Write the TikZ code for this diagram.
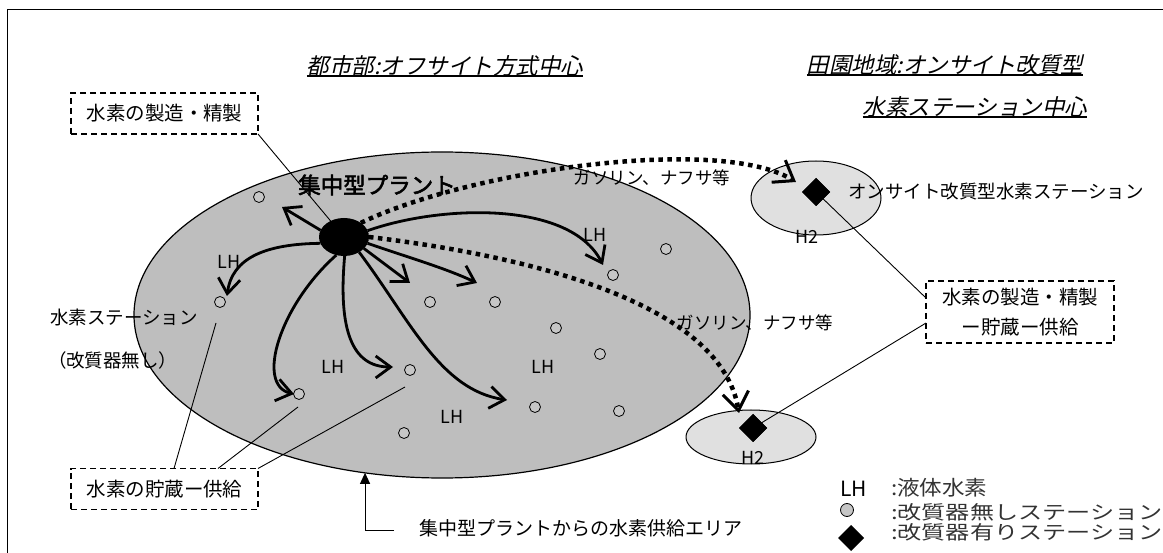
\documentclass[tikz,border=0pt]{standalone}
\usepackage{fontspec}
\usepackage{graphicx}
\setmainfont{Noto Sans CJK JP}
\newfontfamily\slcjk[FakeSlant=0.22]{Noto Sans CJK JP}
\newfontfamily\bdcjk[FakeBold=2.5]{Noto Sans CJK JP}
\usetikzlibrary{arrows.meta,shapes.geometric,calc}
\definecolor{areagray}{RGB}{190,190,190}
\definecolor{lightg}{RGB}{224,224,224}
\definecolor{stgray}{RGB}{198,198,198}
\begin{document}
\begin{tikzpicture}[x=1pt,y=-1pt,
  every node/.style={inner sep=0pt, outer sep=0pt},
  fsz/.style={font=\fontsize{#1}{#1}\selectfont},
  title/.style={font=\fontsize{22.5}{22.5}\slcjk},
  station/.style={circle, draw, line width=0.8pt, fill=stgray, minimum size=11pt},
  plantst/.style={ellipse, fill=black, minimum width=50pt, minimum height=38pt},
  dia/.style={diamond, fill=black, minimum width=28pt, minimum height=28pt},
  dbox/.style={draw, dash pattern=on 6pt off 4pt, line width=1.4pt, minimum width=187pt, minimum height=41pt, fsz=19.5},
  thin/.style={line width=0.9pt},
  lh/.style={line width=2.8pt, -{Straight Barb[length=15pt,width=22pt]}},
  dotarr/.style={line width=4.5pt, dash pattern=on 4.5pt off 4.5pt, -{Straight Barb[length=18pt,width=26pt,line width=3pt]}},
  lbl/.style={fsz=18},
  legend/.style={fsz=19, text=black!80, anchor=west}
]
\useasboundingbox (0,0) rectangle (1163,553);
% frame
\draw[line width=1.5pt] (7.7,553) -- (7.7,9.5) -- (1163,9.5);

% areas
\node[ellipse, draw, line width=1.2pt, fill=areagray, minimum width=616pt, minimum height=326pt] (area) at (442,315) {};
\node[ellipse, draw, line width=1pt, fill=lightg, minimum width=130pt, minimum height=74pt] (r1) at (816,198) {};
\node[ellipse, draw, line width=1pt, fill=lightg, minimum width=130pt, minimum height=54pt] (r2) at (751,437) {};

% stations
\node[station] (s1) at (259,197) {};
\node[station] (s2) at (220,302) {};
\node[station] (s3) at (430,302) {};
\node[station] (s4) at (495,302) {};
\node[station] (s5) at (556,328) {};
\node[station] (s6) at (600,354) {};
\node[station] (s7) at (410,370) {};
\node[station] (s8) at (299,394) {};
\node[station] (s9) at (535,407) {};
\node[station] (s10) at (619,411) {};
\node[station] (s11) at (404,433) {};
\node[station] (s12) at (613,275) {};
\node[station] (s13) at (666,249) {};

% boxes
\node[dbox] (box1) at (164.5,113.5) {水素の製造・精製};
\node[dbox] (box3) at (164.5,489) {水素の貯蔵ー供給};
\node[dbox, minimum width=188pt, minimum height=62pt, align=center, font=\fontsize{19.5}{30}\selectfont] (box2) at (1020,312) {水素の製造・精製\\ー貯蔵ー供給};

% plant and diamonds
\node[plantst] (plant) at (344,237) {};
\node[dia] (d1) at (816,192) {};
\node[dia] (d2) at (753,428) {};

% thin connector lines
\draw[thin] (box1.south east) -- (plant);
\draw[thin] ($(box3.north west)+(103,0)$) -- ($(s2)+(-4,21)$);
\draw[thin] ($(box3.north west)+(147,0)$) -- ($(s8)+(-1,13)$);
\draw[thin] (box3.north east) -- ($(s7)+(-5,17)$);
\draw[thin] ($(box2.north west)+(0,17)$) -- (d1.center);
\draw[thin] ($(box2.north west)+(0,42)$) -- (d2.center);
\node[dia] at (d1) {};
\node[dia] at (d2) {};

% LH arrows
\draw[lh] (plant.164) -- (282,207);
\draw[lh] (plant.195) .. controls (265,244) and (232,258) .. ($(s2)+(7,-6)$);
\draw[lh] (plant.247) .. controls (280,305) and (255,385) .. ($(s8)+(-5,0)$);
\draw[lh] (plant.272) .. controls (338,330) and (352,367) .. ($(s7)+(-17,-3)$);
\draw[lh] (plant.315) .. controls (410,320) and (440,390) .. ($(s9)+(-28,-7)$);
\draw[lh] (plant.330) -- (410,283);
\draw[lh] (plant.345) .. controls (410,258) and (445,268) .. (477,283);
\draw[lh] (plant.15) .. controls (440,205) and (570,200) .. ($(s12)+(-10,-10)$);

% dotted arrows
\draw[dotarr] (plant.40) .. controls (470,170) and (720,135) .. ($(d1)+(-20,-10)$);
\draw[dotarr] (plant.0) .. controls (520,255) and (720,300) .. ($(d2)+(-14,-15)$);

% titles
\node[title] (t1) at (445,66) {都市部:オフサイト方式中心};
\node[title] (t2) at (945,65) {田園地域:オンサイト改質型};
\node[title] (t3) at (975,107) {水素ステーション中心};
\draw[line width=1.5pt] ([yshift=0.5]t1.south west) -- ([yshift=0.5]t1.south east);
\draw[line width=1.5pt] ([yshift=0.5]t2.south west) -- ([yshift=0.5]t2.south east);
\draw[line width=1.5pt] ([yshift=0.5]t3.south west) -- ([yshift=0.5]t3.south east);

% labels
\node[font=\fontsize{22.5}{22.5}\bdcjk] (plantlbl) at (377,185) {集中型プラント};
\node[fsz=17.5] (gas1) at (652,178) {ガソリン、ナフサ等};
\node[fsz=17.5] (gas2) at (755,323) {ガソリン、ナフサ等};
\node[fsz=18.5, anchor=west] (onsite) at (848,192) {オンサイト改質型水素ステーション};
\node[fsz=18.5, anchor=west] (stlbl) at (50,317) {水素ステーション};
\node[fsz=18.5, anchor=west] (stlbl2) at (48,360) {（改質器無し）};
\node[lbl] (lh1) at (229,262) {LH};
\node[lbl] (lh2) at (333,367) {LH};
\node[lbl] (lh3) at (595,235) {LH};
\node[lbl] (lh4) at (543,367) {LH};
\node[lbl] (lh5) at (452,417) {LH};
\node[lbl] (h2a) at (807,237) {H2};
\node[lbl] (h2b) at (753,458) {H2};

% supply area label
\node[fsz=19, anchor=west] (areatxt) at (419,528) {集中型プラントからの水素供給エリア};
\draw[line width=1pt, -{Triangle[length=11pt,width=10pt]}] ($(areatxt.west)+(-25,2)$) -| (area.244);

% legend
\node[fsz=21, anchor=west] (leglh) at (840,489) {LH};
\node[legend, fsz=20.5] (leglht) at (891,488) {\scalebox{1.1}[1]{:液体水素}};
\node[station, minimum size=13pt] (legst) at (847,510) {};
\node[legend] (legstt) at (891,512) {\scalebox{1.27}[1]{:改質器無しステーション}};
\node[dia, minimum width=26pt, minimum height=26pt] (legdia) at (851,538) {};
\node[legend] (legdiat) at (891,532) {\scalebox{1.27}[1]{:改質器有りステーション}};
\end{tikzpicture}
\end{document}
